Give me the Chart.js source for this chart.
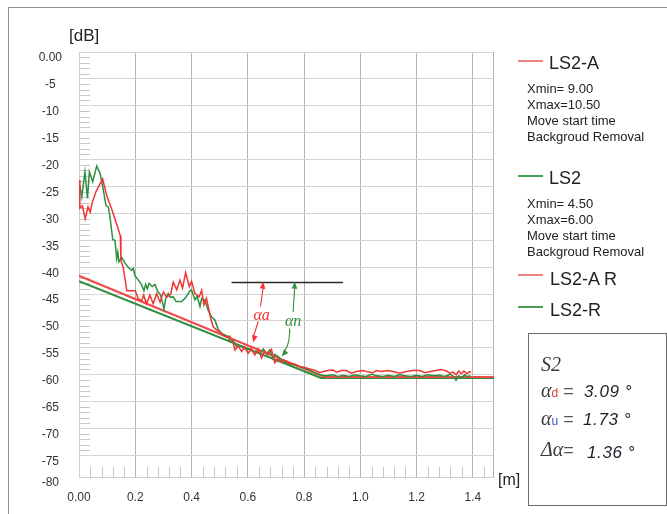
<!DOCTYPE html>
<html>
<head>
<meta charset="utf-8">
<script src="https://cdn.jsdelivr.net/npm/chart.js@4"></script>
<style>
html,body{margin:0;padding:0;background:#fff;}
#wrap{position:relative;width:667px;height:514px;overflow:hidden;font-family:"Liberation Sans",Arial,sans-serif;color:#222;background:#fff;}
#c{position:absolute;left:0;top:0;}
.frame{position:absolute;left:8px;top:7px;width:720px;height:600px;border-left:1px solid #8e8e8e;border-top:1px solid #8e8e8e;pointer-events:none;}
.t{position:absolute;white-space:nowrap;}
.lg{position:absolute;height:2px;width:25px;left:518px;}
.big{font-size:18px;line-height:18px;color:#222;}
.sub{font-size:13px;line-height:16px;color:#222;}
.box{position:absolute;left:528px;top:333px;width:137px;height:171px;border:1px solid #6a6a6a;background:#fff;}
.ser{font-family:"Liberation Serif","Times New Roman",serif;font-style:italic;color:#3a3a3a;}
.num{font-family:"Liberation Sans",Arial,sans-serif;font-style:italic;font-size:17px;line-height:24px;letter-spacing:0.6px;color:#1e1e2a;}
.eq{font-family:"Liberation Sans",Arial,sans-serif;font-style:normal;font-size:18px;color:#555;}
.sb{font-family:"Liberation Sans",Arial,sans-serif;font-style:normal;font-size:12px;}
</style>
</head>
<body>
<div id="wrap">
  <canvas id="c" width="667" height="514"></canvas>
  <div class="frame"></div>

  <div class="t" style="left:69px;top:27px;font-size:17px;line-height:17px;">[dB]</div>
  <div class="t" style="left:498px;top:472px;font-size:16px;line-height:16px;">[m]</div>

  <div class="lg" style="top:60px;background:#f28080;"></div>
  <div class="t big" style="left:549px;top:53.5px;">LS2-A</div>
  <div class="t sub" style="left:527px;top:81px;">Xmin= 9.00<br>Xmax=10.50<br>Move start time<br>Backgroud Removal</div>

  <div class="lg" style="top:175px;background:#45a050;"></div>
  <div class="t big" style="left:549px;top:168.5px;">LS2</div>
  <div class="t sub" style="left:527px;top:196px;">Xmin= 4.50<br>Xmax=6.00<br>Move start time<br>Backgroud Removal</div>

  <div class="lg" style="top:274px;background:#f28080;"></div>
  <div class="t big" style="left:550px;top:269.5px;">LS2-A R</div>

  <div class="lg" style="top:306px;background:#45a050;"></div>
  <div class="t big" style="left:550px;top:301px;">LS2-R</div>

  <div class="box"></div>
  <div class="t ser" style="left:541px;top:354px;font-size:20px;line-height:20px;">S2</div>

  <div class="t ser" style="left:541px;top:378px;font-size:20px;line-height:24px;">α<span class="sb" style="color:#e03a2a;">d</span><span class="eq"> =</span></div>
  <div class="t num" style="left:584px;top:380px;">3.09 °</div>

  <div class="t ser" style="left:541px;top:406px;font-size:20px;line-height:24px;">α<span class="sb" style="color:#2a5ad0;">u</span><span class="eq"> =</span></div>
  <div class="t num" style="left:583px;top:408px;">1.73 °</div>

  <div class="t ser" style="left:541px;top:436.5px;font-size:20px;line-height:24px;">Δα<span class="eq">=</span></div>
  <div class="t num" style="left:587px;top:440.5px;">1.36 °</div>
</div>

<script>
// ---- tick values / labels ----
const xTickValues = [0, 0.2, 0.4, 0.6, 0.8, 1.0, 1.2, 1.4];
const xTickLabels = ['0.00', '0.2', '0.4', '0.6', '0.8', '1.0', '1.2', '1.4'];
const yTickValues = [0, -5, -10, -15, -20, -25, -30, -35, -40, -45, -50, -55, -60, -65, -70, -75, -79];
const yTickLabels = ['0.00', '-5', '-10', '-15', '-20', '-25', '-30', '-35', '-40', '-45', '-50', '-55', '-60', '-65', '-70', '-75', '-80'];

// ---- series: LS2-A (red, raw) ----
const ls2aX = [0.000,0.003,0.012,0.022,0.032,0.040,0.047,0.060,0.084,0.098,0.116,0.134,0.147,0.149,0.157,0.166,0.170,0.200,0.211,0.223,0.230,0.240,0.252,0.264,0.276,0.288,0.300,0.312,0.326,0.335,0.347,0.359,0.368,0.379,0.392,0.400,0.412,0.427,0.436,0.444,0.453,0.468,0.477,0.488,0.500,0.512,0.524,0.536,0.548,0.554,0.566,0.578,0.589,0.601,0.613,0.625,0.637,0.649,0.660,0.672,0.684,0.696,0.708,0.720,0.735,0.749,0.765,0.785,0.800,0.820,0.840,0.856,0.868,0.885,0.903,0.915,0.933,0.950,0.968,0.986,1.010,1.028,1.045,1.057,1.075,1.099,1.116,1.140,1.164,1.187,1.211,1.229,1.258,1.288,1.306,1.318,1.329,1.341,1.349,1.359,1.368,1.379,1.388,1.394];
const ls2aY = [-23.8,-29.0,-28.6,-31.0,-28.8,-29.8,-28.0,-26.0,-23.6,-26.6,-29.2,-32.0,-34.2,-38.8,-40.0,-43.0,-44.4,-44.4,-45.9,-46.2,-45.2,-46.8,-45.2,-46.8,-44.9,-46.5,-44.6,-45.6,-45.0,-42.8,-44.2,-42.4,-43.9,-41.0,-43.6,-42.6,-44.9,-45.5,-44.3,-47.0,-45.8,-49.5,-51.1,-51.6,-52.0,-52.7,-53.0,-52.8,-54.1,-55.4,-54.6,-55.7,-54.8,-56.0,-55.2,-56.3,-55.2,-56.9,-55.6,-56.3,-55.3,-57.8,-57.0,-57.6,-57.4,-57.9,-58.0,-58.5,-58.6,-58.9,-59.2,-59.6,-59.4,-59.2,-59.1,-59.5,-59.2,-59.2,-59.7,-59.4,-59.2,-59.5,-59.6,-59.2,-59.4,-59.2,-59.4,-59.7,-59.4,-59.2,-59.2,-59.6,-59.3,-59.0,-59.3,-59.7,-59.5,-60.0,-59.3,-59.8,-59.3,-59.8,-59.4,-59.5];

// ---- series: LS2 (green, raw) ----
const ls2X = [0.000,0.010,0.021,0.030,0.037,0.049,0.063,0.075,0.086,0.096,0.104,0.110,0.120,0.128,0.134,0.138,0.142,0.152,0.163,0.175,0.187,0.193,0.199,0.211,0.222,0.231,0.237,0.243,0.249,0.260,0.270,0.279,0.290,0.296,0.302,0.308,0.317,0.325,0.335,0.345,0.365,0.380,0.394,0.400,0.412,0.420,0.430,0.436,0.447,0.459,0.471,0.483,0.495,0.507,0.518,0.530,0.536,0.548,0.560,0.572,0.584,0.596,0.608,0.620,0.632,0.643,0.655,0.667,0.678,0.690,0.696,0.708,0.720,0.743,0.767,0.791,0.814,0.838,0.862,0.880,0.900,0.920,0.940,0.960,0.980,1.000,1.020,1.040,1.060,1.080,1.100,1.120,1.140,1.160,1.180,1.200,1.220,1.240,1.260,1.280,1.300,1.320,1.330,1.340,1.350,1.360,1.370,1.380,1.390];
const ls2Y = [-24.0,-26.9,-22.3,-27.2,-22.3,-24.1,-21.2,-22.6,-25.5,-28.6,-28.8,-30.6,-34.9,-35.0,-38.4,-37.2,-39.0,-38.2,-39.2,-40.0,-40.6,-40.2,-41.6,-42.4,-43.2,-44.4,-43.2,-44.0,-43.0,-43.6,-43.2,-44.4,-45.2,-46.4,-47.8,-45.8,-44.9,-45.6,-45.5,-46.4,-46.4,-45.6,-44.4,-44.2,-46.1,-45.4,-47.3,-45.8,-46.1,-48.0,-49.2,-49.8,-51.6,-52.3,-52.6,-52.9,-53.8,-53.6,-54.8,-54.6,-55.0,-55.4,-55.2,-55.8,-55.6,-56.0,-55.2,-56.1,-55.4,-57.0,-56.2,-56.6,-57.3,-57.9,-58.2,-58.6,-59.0,-59.6,-60.1,-60.2,-60.0,-60.3,-60.1,-60.3,-60.0,-60.2,-60.3,-59.9,-60.2,-60.3,-60.1,-60.3,-60.0,-60.2,-60.3,-60.1,-60.3,-60.0,-60.2,-60.1,-60.3,-59.9,-60.3,-61.0,-60.2,-60.6,-60.0,-60.4,-60.1];

// ---- regression lines ----
const ls2aRX = [0, 0.872, 1.475];
const ls2aRY = [-41.6, -60.4, -60.4];
const ls2RX = [0, 0.860, 1.475];
const ls2RY = [-42.6, -60.6, -60.6];

// ---- annotation (data units) ----
const refLineX = [0.542, 0.938];
const refLineY = -42.7;
const arrowA = { top: [0.655, -42.7], upEnd: [0.645, -47.3], lowStart: [0.637, -50.1], bottom: [0.619, -54.0], label: [0.649, -49.0], text: 'αa' };
const arrowN = { top: [0.767, -42.7], upEnd: [0.761, -48.3], lowStart: [0.749, -51.4], bottom: [0.720, -56.6], ctrl: [0.748, -54.9], label: [0.761, -50.2], text: 'αn' };

const pts = (xs, ys) => xs.slice(0, Math.min(xs.length, ys.length)).map((x, i) => ({ x: x, y: ys[i] }));

const RED = '#f23434', GREEN = '#2e8f3e';

function head(ctx, px, py, fromX, fromY, color) {
  const ang = Math.atan2(py - fromY, px - fromX);
  const L = 7, W = 2.8;
  ctx.fillStyle = color;
  ctx.beginPath();
  ctx.moveTo(px, py);
  ctx.lineTo(px - L * Math.cos(ang) + W * Math.sin(ang), py - L * Math.sin(ang) - W * Math.cos(ang));
  ctx.lineTo(px - L * Math.cos(ang) - W * Math.sin(ang), py - L * Math.sin(ang) + W * Math.cos(ang));
  ctx.closePath();
  ctx.fill();
}

const decor = {
  id: 'decor',
  beforeDatasetsDraw(chart) {
    const { ctx, chartArea: a, scales: { x, y } } = chart;
    ctx.save();
    ctx.strokeStyle = '#c8c8c8';
    ctx.lineWidth = 1;
    for (let v = -1; v >= -74; v--) {
      if (v % 5 === 0) continue;
      const py = Math.round(y.getPixelForValue(v)) + 0.5;
      ctx.beginPath(); ctx.moveTo(a.left, py); ctx.lineTo(a.left + 11, py); ctx.stroke();
    }
    for (let k = 1; k <= 36; k++) {
      if (k % 5 === 0) continue;
      const px = Math.round(x.getPixelForValue(k * 0.04)) + 0.5;
      ctx.beginPath(); ctx.moveTo(px, a.bottom - 10); ctx.lineTo(px, a.bottom); ctx.stroke();
    }
    ctx.strokeStyle = '#b4b4b4';
    ctx.beginPath(); ctx.moveTo(a.right - 0.5, a.top); ctx.lineTo(a.right - 0.5, a.bottom); ctx.stroke();
    ctx.restore();
  },
  afterDatasetsDraw(chart) {
    const { ctx, scales: { x, y } } = chart;
    const P = (p) => [x.getPixelForValue(p[0]), y.getPixelForValue(p[1])];
    ctx.save();
    ctx.strokeStyle = '#2a2a2a';
    ctx.lineWidth = 1.4;
    const ry = Math.round(y.getPixelForValue(refLineY)) + 0.5;
    ctx.beginPath(); ctx.moveTo(x.getPixelForValue(refLineX[0]), ry); ctx.lineTo(x.getPixelForValue(refLineX[1]), ry); ctx.stroke();

    ctx.lineWidth = 1.1;
    let t = P(arrowA.top), u = P(arrowA.upEnd), l = P(arrowA.lowStart), b = P(arrowA.bottom);
    ctx.strokeStyle = RED;
    ctx.beginPath(); ctx.moveTo(t[0], t[1] + 5); ctx.lineTo(u[0], u[1]); ctx.stroke();
    head(ctx, t[0], t[1], u[0], u[1], RED);
    ctx.beginPath(); ctx.moveTo(l[0], l[1]); ctx.lineTo(b[0], b[1] - 5); ctx.stroke();
    head(ctx, b[0], b[1], l[0], l[1], RED);

    t = P(arrowN.top); u = P(arrowN.upEnd); l = P(arrowN.lowStart); b = P(arrowN.bottom);
    const c = P(arrowN.ctrl);
    ctx.strokeStyle = GREEN;
    ctx.beginPath(); ctx.moveTo(t[0], t[1] + 5); ctx.lineTo(u[0], u[1]); ctx.stroke();
    head(ctx, t[0], t[1], u[0], u[1], GREEN);
    ctx.beginPath(); ctx.moveTo(l[0], l[1]); ctx.quadraticCurveTo(c[0], c[1], b[0] + 2, b[1] - 5); ctx.stroke();
    head(ctx, b[0], b[1], c[0], c[1], GREEN);

    ctx.font = 'italic 16px "Liberation Serif", "Times New Roman", serif';
    ctx.textAlign = 'center';
    ctx.textBaseline = 'middle';
    let p = P(arrowA.label);
    ctx.fillStyle = RED; ctx.fillText(arrowA.text, p[0], p[1]);
    p = P(arrowN.label);
    ctx.fillStyle = GREEN; ctx.fillText(arrowN.text, p[0], p[1]);
    ctx.restore();
  }
};

Chart.defaults.font.family = '"Liberation Sans", Arial, sans-serif';
Chart.defaults.font.size = 12;
Chart.defaults.color = '#333';

new Chart(document.getElementById('c'), {
  type: 'scatter',
  data: {
    datasets: [
      { label: 'LS2-A', data: pts(ls2aX, ls2aY), borderColor: RED, borderWidth: 1.5, order: 0 },
      { label: 'LS2', data: pts(ls2X, ls2Y), borderColor: GREEN, borderWidth: 1.5, order: 1 },
      { label: 'LS2-A R', data: pts(ls2aRX, ls2aRY), borderColor: '#f04a4a', borderWidth: 2, order: 2 },
      { label: 'LS2-R', data: pts(ls2RX, ls2RY), borderColor: '#2f8c3f', borderWidth: 2, order: 3 }
    ].map(d => Object.assign(d, { showLine: true, pointRadius: 0, tension: 0, fill: false }))
  },
  options: {
    responsive: false,
    animation: false,
    events: [],
    layout: { padding: { left: 0, top: 52, right: 173, bottom: 0 } },
    plugins: { legend: { display: false }, tooltip: { enabled: false } },
    scales: {
      x: {
        type: 'linear', min: 0, max: 1.475,
        afterFit: s => { s.height = 37; },
        afterBuildTicks: s => { s.ticks = xTickValues.map(v => ({ value: v })); },
        ticks: { autoSkip: false, maxRotation: 0, padding: 13, color: '#333', callback: (v, i) => xTickLabels[i] },
        grid: { drawTicks: false, color: (c) => c.index === 0 ? '#d0d0d0' : '#b2b2b2', lineWidth: 1 },
        border: { display: true, color: '#cfcfcf' }
      },
      y: {
        type: 'linear', min: -79, max: 0,
        afterFit: s => { s.width = 79; },
        afterBuildTicks: s => { s.ticks = yTickValues.map(v => ({ value: v })); },
        ticks: { autoSkip: false, padding: 17, crossAlign: 'center', labelOffset: 6, color: '#333', callback: (v, i) => yTickLabels[i] },
        grid: { drawTicks: false, color: '#d4d4d4', lineWidth: 1 },
        border: { display: true, color: '#cfcfcf' }
      }
    }
  },
  plugins: [decor]
});
</script>
</body>
</html>
